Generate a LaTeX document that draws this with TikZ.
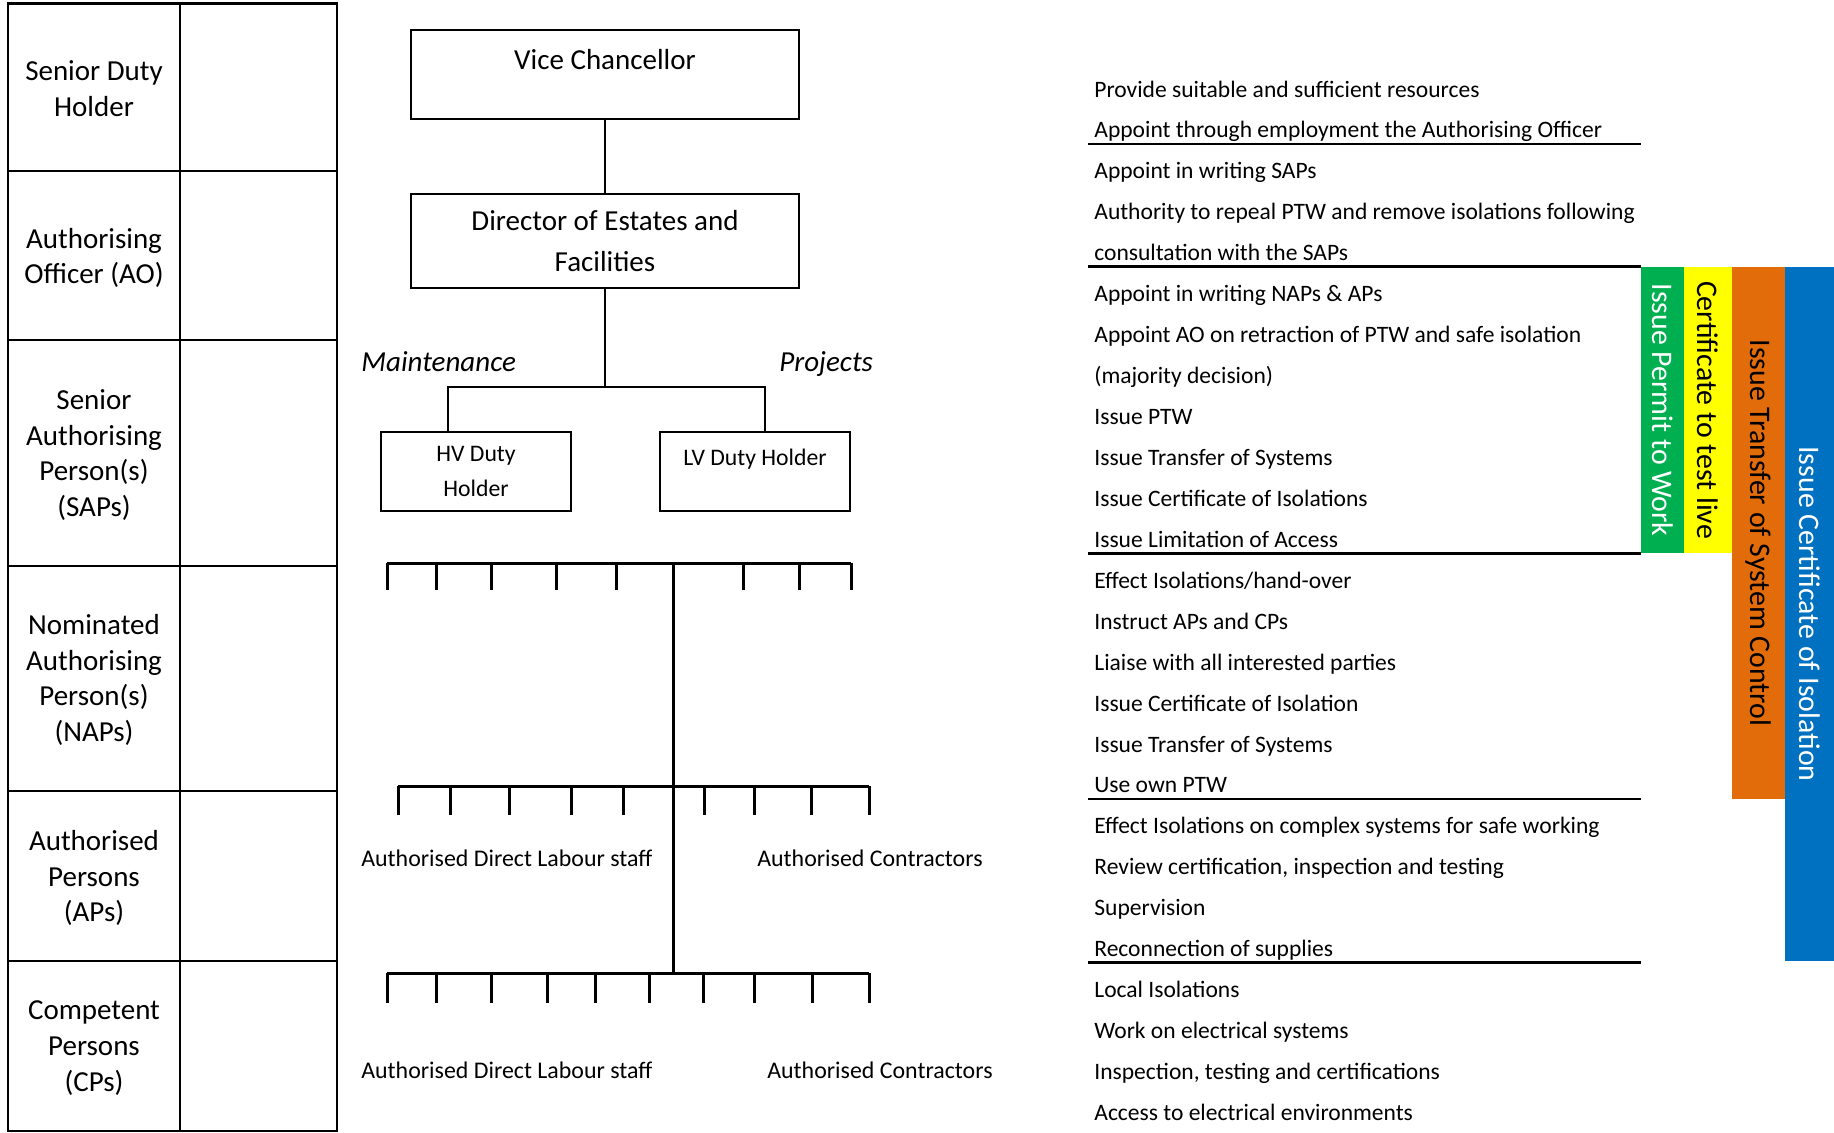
\documentclass[tikz,border=0pt]{standalone}
\usepackage{fontspec}
\setmainfont{Carlito}
\definecolor{ptwgreen}{HTML}{00B050}
\definecolor{livegold}{HTML}{FFFF00}
\definecolor{tscorange}{HTML}{E36C0A}
\definecolor{isoblue}{HTML}{0070C0}
\begin{document}
\begin{tikzpicture}[x=0.02cm, y=-0.02cm,
    rolecell/.style={align=center, font=\fontsize{16.5}{20.4}\selectfont},
    orgbox/.style={draw, line width=1pt, align=center, minimum width=7.76cm},
    duty/.style={anchor=base west, inner sep=0pt, font=\fontsize{13.4}{16}\selectfont},
    sepline/.style={line width=1.6pt},
    comb/.style={line width=1.7pt},
    certbar/.style={rotate=-90, inner sep=0pt, font=\fontsize{17}{20}\selectfont}]
    \useasboundingbox (0,0) rectangle (1834,1132);

    % Roles table
    \draw[line width=1.5pt] (8,3.5) rectangle (337,1131);
    \draw[line width=1.5pt] (180,3.5) -- (180,1131);
    \foreach \y in {171,340,566,791,961}
        \draw[line width=1.5pt] (8,\y) -- (337,\y);
    \node[rolecell] (sdh) at (94,89) {Senior Duty\\Holder};
    \node[rolecell] (ao) at (94,258) {Authorising\\Officer (AO)};
    \node[rolecell] (sap) at (94,455) {Senior\\Authorising\\Person(s)\\(SAPs)};
    \node[rolecell] (nap) at (94,680) {Nominated\\Authorising\\Person(s)\\(NAPs)};
    \node[rolecell] (ap) at (94,878) {Authorised\\Persons\\(APs)};
    \node[rolecell] (cp) at (94,1048) {Competent\\Persons\\(CPs)};

    % Management chain
    \node[orgbox, minimum height=1.78cm, font=\fontsize{16.5}{20}\selectfont,
          text height=0.4cm, text depth=0.59cm] (vc) at (605,74.5) {Vice Chancellor};
    \node[orgbox, minimum height=1.88cm, font=\fontsize{16.5}{23.2}\selectfont,
          text depth=-0.1cm] (dir) at (605,241) {Director of Estates and\\Facilities};
    \node[orgbox, minimum width=3.8cm, minimum height=1.58cm,
          font=\fontsize{13.5}{19.8}\selectfont, text depth=-0.14cm] (hv) at (476,471.5) {HV Duty\\Holder};
    \node[orgbox, minimum width=3.8cm, minimum height=1.58cm, font=\fontsize{13.5}{16}\selectfont,
          text height=0.33cm, text depth=0.57cm] (lv) at (755,471.5) {LV Duty Holder};
    \coordinate (fork) at (605,387);
    \draw[line width=1.1pt] (vc) -- (dir);
    \draw[line width=1.1pt] (dir) -- (fork);
    \draw[line width=1.4pt] ([xshift=-0.56cm]hv.north) |- (fork) -| ([xshift=0.2cm]lv.north);
    \node[anchor=base west, inner sep=0pt, font=\fontsize{16.5}{20}\selectfont\itshape]
          (maint) at (361,371) {Maintenance};
    \node[anchor=base west, inner sep=0pt, font=\fontsize{16.5}{20}\selectfont\itshape]
          (proj) at (779,371) {Projects};

    % Staff combs
    \draw[comb] (387,563) -- (851,563);
    \foreach \x in {387,436,491,556,616,743,799,851}
        \draw[comb] (\x,563) -- (\x,590);
    \draw[comb] (673,563) -- (673,973);
    \draw[comb] (398,786) -- (869,786);
    \foreach \x in {398,450,509,571,623,704,754,811,869}
        \draw[comb] (\x,786) -- (\x,815);
    \draw[comb] (387,973) -- (869,973);
    \foreach \x in {387,436,491,547,595,649,703,754,812,869}
        \draw[comb] (\x,973) -- (\x,1003);
    \node[duty, font=\fontsize{13.6}{16}\selectfont] (apdl) at (361,866) {Authorised Direct Labour staff};
    \node[duty, font=\fontsize{13.6}{16}\selectfont] (apco) at (757,866) {Authorised Contractors};
    \node[duty, font=\fontsize{13.6}{16}\selectfont] (cpdl) at (361,1078) {Authorised Direct Labour staff};
    \node[duty, font=\fontsize{13.6}{16}\selectfont] (cpco) at (767,1078) {Authorised Contractors};

    % Duties
    \foreach \txt [count=\i] in {
        Provide suitable and sufficient resources,
        Appoint through employment the Authorising Officer,
        Appoint in writing SAPs,
        Authority to repeal PTW and remove isolations following,
        consultation with the SAPs,
        Appoint in writing NAPs \& APs,
        Appoint AO on retraction of PTW and safe isolation,
        (majority decision),
        Issue PTW,
        Issue Transfer of Systems,
        Issue Certificate of Isolations,
        Issue Limitation of Access,
        Effect Isolations/hand-over,
        Instruct APs and CPs,
        Liaise with all interested parties,
        Issue Certificate of Isolation,
        Issue Transfer of Systems,
        Use own PTW,
        Effect Isolations on complex systems for safe working,
        {Review certification, inspection and testing},
        Supervision,
        Reconnection of supplies,
        Local Isolations,
        Work on electrical systems,
        {Inspection, testing and certifications},
        Access to electrical environments}
        \node[duty] (d\i) at (1094,{97+40.94*(\i-1)}) {\txt};
    \foreach \k in {2,5,12,18,22}
        \draw[sepline] (1088,{103+40.94*(\k-1)}) -- (1641,{103+40.94*(\k-1)});

    % Certificate bars
    \node[certbar, fill=ptwgreen, text=white, minimum width=5.72cm, minimum height=0.86cm]
          (ptw) at (1662.5,410) {Issue Permit to Work};
    \node[certbar, fill=livegold, minimum width=5.72cm, minimum height=0.96cm]
          (ctl) at (1708,410) {Certificate to test live};
    \node[certbar, fill=tscorange, minimum width=10.64cm, minimum height=1.06cm]
          (tsc) at (1758.5,533) {Issue Transfer of System Control};
    \node[certbar, fill=isoblue, text=white, minimum width=13.88cm, minimum height=0.98cm]
          (coi) at (1809.5,614) {Issue Certificate of Isolation};
\end{tikzpicture}
\end{document}
